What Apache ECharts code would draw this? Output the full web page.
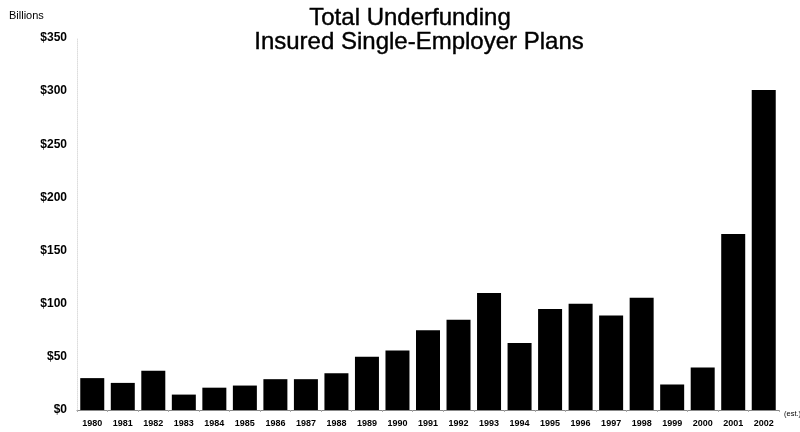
<!DOCTYPE html>
<html>
<head>
<meta charset="utf-8">
<script src="https://cdn.jsdelivr.net/npm/echarts@6/dist/echarts.min.js"></script>
<style>
html,body{margin:0;padding:0;background:#fff;}
#c{width:800px;height:432px;}
</style>
</head>
<body>
<div id="c"></div>
<script>
const years = ['1980','1981','1982','1983','1984','1985','1986','1987','1988','1989','1990','1991','1992','1993','1994','1995','1996','1997','1998','1999','2000','2001','2002'];
const underfunding = [30, 25.5, 37, 14.5, 21, 23, 29, 29, 34.5, 50, 56, 75, 85, 110, 63, 95, 100, 89, 105.5, 24, 40, 165.5, 301];
const yTicks = {min: 0, max: 350, step: 50};
const titleLines = ['Total Underfunding', 'Insured Single-Employer Plans'];

const titleStyle = {fontFamily: 'Arial, Liberation Sans', fontSize: 24, fontWeight: 'normal', color: '#000', lineHeight: 24, textBorderColor: '#000', textBorderWidth: 0.4};
const chart = echarts.init(document.getElementById('c'), null, {renderer: 'canvas'});
chart.setOption({
  animation: false,
  backgroundColor: '#fff',
  title: [
    {text: titleLines[0], left: 410, top: 6, textAlign: 'center', padding: 0, textStyle: titleStyle},
    {text: titleLines[1], left: 419, top: 30, textAlign: 'center', padding: 0, textStyle: titleStyle}
  ],
  graphic: [
    {type: 'text', left: 9, top: 10, style: {text: 'Billions', font: '11px Arial, Liberation Sans', fill: '#000'}},
    {type: 'text', left: 784, top: 410, style: {text: '(est.)', font: '7.5px Arial, Liberation Sans', fill: '#000'}}
  ],
  grid: {left: 77, right: 21, top: 38, bottom: 22, containLabel: false},
  xAxis: {
    type: 'category',
    data: years,
    axisLine: {show: true, lineStyle: {color: '#888', width: 1}},
    axisTick: {show: true, length: 2, alignWithLabel: false, lineStyle: {color: '#aaa'}},
    axisLabel: {interval: 0, margin: 9, fontFamily: 'Arial, Liberation Sans', fontSize: 9, fontWeight: 'bold', color: '#000'}
  },
  yAxis: {
    type: 'value',
    min: yTicks.min,
    max: yTicks.max,
    interval: yTicks.step,
    axisLine: {show: true, lineStyle: {color: '#ddd', type: 'dotted'}},
    axisTick: {show: false},
    splitLine: {show: false},
    axisLabel: {
      margin: 10,
      fontFamily: 'Arial, Liberation Sans',
      fontSize: 12,
      fontWeight: 'bold',
      color: '#000',
      formatter: v => '$' + v
    }
  },
  series: [{
    type: 'bar',
    data: underfunding,
    barWidth: 24,
    itemStyle: {color: '#000'}
  }]
});
</script>
</body>
</html>
